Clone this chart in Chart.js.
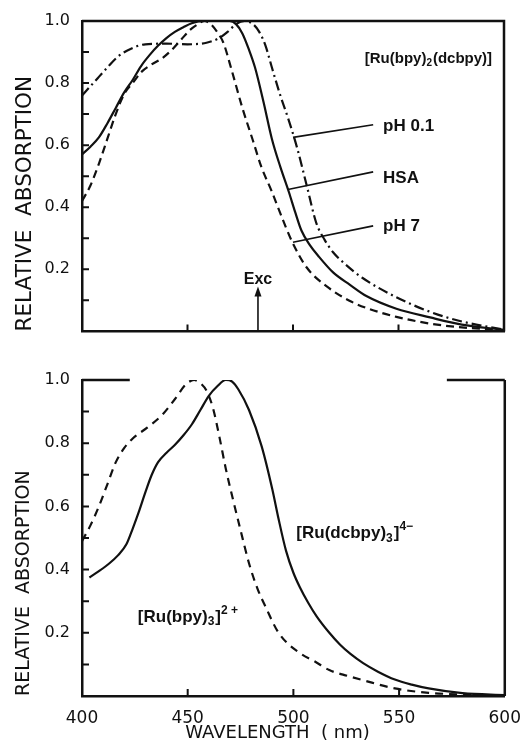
<!DOCTYPE html>
<html>
<head>
<meta charset="utf-8">
<script src="https://cdn.jsdelivr.net/npm/chart.js@4.4.1/dist/chart.umd.min.js"></script>
<style>
  body { margin: 0; background: #fff; }
  #wrap { position: relative; width: 525px; height: 744px; }
  canvas { position: absolute; left: 0; }
  #upper { top: 0; }
  #lower { top: 360px; }
</style>
</head>
<body>
<div id="wrap">
  <canvas id="upper" width="525" height="345"></canvas>
  <canvas id="lower" width="525" height="384"></canvas>
</div>
<script>
// ---- data ----
// upper panel: [Ru(bpy)2(dcbpy)]
const hsaWl  = [400, 404, 408, 412, 416, 420, 424, 428, 432, 436, 440, 444, 448, 452, 458, 470, 473, 476, 479, 482, 486, 490, 494, 498, 501, 504, 508, 512, 519, 527, 535, 549, 565, 580, 600];
const hsaAbs = [0.57, 0.595, 0.625, 0.67, 0.72, 0.77, 0.81, 0.855, 0.89, 0.92, 0.945, 0.965, 0.98, 0.993, 1.0, 1.0, 0.99, 0.96, 0.91, 0.85, 0.74, 0.62, 0.53, 0.45, 0.385, 0.325, 0.278, 0.243, 0.19, 0.15, 0.113, 0.073, 0.045, 0.022, 0.005];

const ph7Wl  = [400, 404, 408, 412, 416, 420, 424, 428, 433, 438, 443, 447, 451, 455, 458, 461, 464, 467, 471, 476, 481, 485, 490, 494, 499.5, 506.6, 516, 527, 535, 549, 565, 580, 600];
const ph7Abs = [0.42, 0.47, 0.54, 0.62, 0.70, 0.765, 0.80, 0.835, 0.86, 0.88, 0.91, 0.94, 0.97, 0.99, 1.0, 0.99, 0.965, 0.93, 0.84, 0.72, 0.615, 0.53, 0.45, 0.38, 0.29, 0.205, 0.145, 0.098, 0.075, 0.047, 0.025, 0.013, 0.004];

const ph01Wl  = [400, 404, 408, 412, 417, 423, 430, 440, 450, 459, 465, 469, 473, 477, 481, 484, 487, 490, 494, 498, 502, 506.5, 511, 515, 519, 525, 533, 549, 565, 580, 600];
const ph01Abs = [0.76, 0.79, 0.82, 0.85, 0.885, 0.91, 0.925, 0.927, 0.925, 0.93, 0.945, 0.965, 0.99, 1.0, 0.99, 0.965, 0.92, 0.85, 0.76, 0.68, 0.59, 0.47, 0.35, 0.295, 0.255, 0.215, 0.172, 0.11, 0.063, 0.032, 0.006];

// lower panel
const dcbpyWl  = [403.5, 408, 413, 417, 421, 424, 427, 430, 433, 436, 440, 444, 448, 452, 456, 460, 464, 468, 471, 474, 479, 485, 490, 493, 496.5, 500, 503, 507, 511, 517, 522, 527, 533, 540, 548, 556, 564, 580, 600];
const dcbpyAbs = [0.375, 0.395, 0.42, 0.445, 0.48, 0.53, 0.585, 0.645, 0.70, 0.74, 0.77, 0.795, 0.825, 0.86, 0.905, 0.95, 0.98, 1.0, 0.995, 0.97, 0.905, 0.79, 0.655, 0.56, 0.46, 0.39, 0.345, 0.295, 0.252, 0.2, 0.163, 0.133, 0.104, 0.077, 0.052, 0.036, 0.024, 0.009, 0.003];

const bpyWl  = [400, 404, 408, 412, 416, 420, 424, 431, 438, 444, 449, 453, 456, 459, 462, 465, 468, 471.5, 475, 479, 483, 487, 493, 503, 510, 517, 526, 533, 548, 564, 580, 600];
const bpyAbs = [0.49, 0.54, 0.60, 0.67, 0.74, 0.785, 0.815, 0.85, 0.89, 0.94, 0.985, 1.0, 0.99, 0.965, 0.91, 0.82, 0.72, 0.62, 0.525, 0.42, 0.34, 0.28, 0.2, 0.136, 0.11, 0.082, 0.063, 0.05, 0.024, 0.01, 0.005, 0.002];

const wlTicks = [400, 450, 500, 550, 600];
const innerXTicks = [450, 500, 550];
const innerYTicks = [0.1, 0.2, 0.3, 0.4, 0.5, 0.6, 0.7, 0.8, 0.9];

const ink = '#111';
const labelFont = '"Liberation Sans", Arial, sans-serif';
const axisFont = '"DejaVu Sans", sans-serif';

function pts(xs, ys) {
  return xs.map((x, i) => ({ x: x, y: ys[i] }));
}

function line(data, dash) {
  return {
    data: data,
    borderColor: ink,
    borderWidth: 2.2,
    borderDash: dash,
    pointRadius: 0,
    fill: false,
    cubicInterpolationMode: 'monotone'
  };
}

// draws text pieces with sub/superscripts, left aligned
function richText(ctx, parts, x, y, size) {
  let cx = x;
  ctx.textAlign = 'left';
  ctx.textBaseline = 'middle';
  parts.forEach(([txt, kind]) => {
    const s = kind ? Math.round(size * 0.68) : size;
    ctx.font = `bold ${s}px ${labelFont}`;
    const dy = kind === 'sub' ? size * 0.3 : kind === 'sup' ? -size * 0.4 : 0;
    ctx.fillText(txt, cx, y + dy);
    cx += ctx.measureText(txt).width + (kind ? 1 : 0);
  });
}

function innerTicks(chart) {
  const { ctx, chartArea: a, scales: { x, y } } = chart;
  ctx.lineWidth = 2;
  ctx.beginPath();
  innerYTicks.forEach(v => {
    const py = y.getPixelForValue(v);
    ctx.moveTo(a.left, py); ctx.lineTo(a.left + 7, py);
  });
  innerXTicks.forEach(v => {
    const px = x.getPixelForValue(v);
    ctx.moveTo(px, a.bottom); ctx.lineTo(px, a.bottom - 7);
  });
  ctx.stroke();
}

// labels with leader lines in the upper panel
const leaderText = ['pH 0.1', 'HSA', 'pH 7'];
const leaderFrom = [[500, 0.625], [497.6, 0.457], [500, 0.287]];
const leaderTo = [[538, 0.666], [538, 0.514], [538, 0.34]];
const leaderTextY = [0.662, 0.492, 0.338];

const upperDecor = {
  id: 'upperDecor',
  afterDraw(chart) {
    const { ctx, chartArea: a, scales: { x, y } } = chart;
    ctx.save();
    ctx.strokeStyle = ink;
    ctx.fillStyle = ink;
    ctx.lineWidth = 2.5;
    ctx.beginPath();
    ctx.moveTo(a.left, a.top); ctx.lineTo(a.right, a.top); ctx.lineTo(a.right, a.bottom);
    ctx.stroke();
    innerTicks(chart);

    ctx.lineWidth = 1.6;
    leaderText.forEach((t, i) => {
      ctx.beginPath();
      ctx.moveTo(x.getPixelForValue(leaderFrom[i][0]), y.getPixelForValue(leaderFrom[i][1]));
      ctx.lineTo(x.getPixelForValue(leaderTo[i][0]), y.getPixelForValue(leaderTo[i][1]));
      ctx.stroke();
      richText(ctx, [[t]], x.getPixelForValue(leaderTo[i][0] + 4.7), y.getPixelForValue(leaderTextY[i]), 17);
    });

    richText(ctx, [['[Ru(bpy)'], ['2', 'sub'], ['(dcbpy)]']], x.getPixelForValue(534), y.getPixelForValue(0.877), 15);

    // excitation arrow
    const ex = x.getPixelForValue(483.4);
    const tip = y.getPixelForValue(0.145);
    ctx.lineWidth = 1.6;
    ctx.beginPath();
    ctx.moveTo(ex, a.bottom); ctx.lineTo(ex, tip + 6);
    ctx.stroke();
    ctx.beginPath();
    ctx.moveTo(ex, tip); ctx.lineTo(ex - 3.5, tip + 10); ctx.lineTo(ex + 3.5, tip + 10);
    ctx.closePath(); ctx.fill();
    ctx.font = `bold 16px ${labelFont}`;
    ctx.textAlign = 'center';
    ctx.textBaseline = 'middle';
    ctx.fillText('Exc', ex, y.getPixelForValue(0.168));
    ctx.restore();
  }
};

const lowerTopEdge = [[400, 422.6], [572.6, 600]];

const lowerDecor = {
  id: 'lowerDecor',
  afterDraw(chart) {
    const { ctx, chartArea: a, scales: { x, y } } = chart;
    ctx.save();
    ctx.strokeStyle = ink;
    ctx.fillStyle = ink;
    ctx.lineWidth = 2.5;
    ctx.beginPath();
    lowerTopEdge.forEach(([s, e]) => {
      ctx.moveTo(x.getPixelForValue(s), a.top); ctx.lineTo(x.getPixelForValue(e), a.top);
    });
    ctx.moveTo(a.right, a.top); ctx.lineTo(a.right, a.bottom);
    ctx.stroke();
    innerTicks(chart);

    richText(ctx, [['[Ru(dcbpy)'], ['3', 'sub'], [']'], ['4\u2212', 'sup']], x.getPixelForValue(501.4), y.getPixelForValue(0.514), 17);
    richText(ctx, [['[Ru(bpy)'], ['3', 'sub'], [']'], ['2 +', 'sup']], x.getPixelForValue(426.4), y.getPixelForValue(0.25), 17);

    // x axis title, sits a little left of the axis centre in the original
    ctx.font = `18px ${axisFont}`;
    ctx.textAlign = 'center';
    ctx.textBaseline = 'middle';
    ctx.fillText('WAVELENGTH  ( nm)', x.getPixelForValue(492.5), chart.height - 11);
    ctx.restore();
  }
};

function yAxis(titleSize) {
  return {
    type: 'linear',
    min: 0,
    max: 1,
    afterFit: s => { s.width = 82; },
    grid: { display: false },
    border: { display: true, width: 2.5, color: ink },
    ticks: {
      stepSize: 0.1,
      padding: 4,
      color: ink,
      font: { family: axisFont, size: 16 },
      callback: v => {
        const k = Math.round(v * 10);
        return (k > 0 && k % 2 === 0) ? (k / 10).toFixed(1) : '';
      }
    },
    title: {
      display: true,
      text: 'RELATIVE  ABSORPTION',
      align: 'start',
      color: ink,
      padding: { top: 13, bottom: 0 },
      font: { family: axisFont, size: titleSize }
    }
  };
}

Chart.defaults.animation = false;

const upperChart = new Chart(document.getElementById('upper'), {
  type: 'line',
  data: {
    datasets: [
      line(pts(ph01Wl, ph01Abs), [10, 4, 2, 4]),
      line(pts(hsaWl, hsaAbs), []),
      line(pts(ph7Wl, ph7Abs), [8, 5])
    ]
  },
  options: {
    responsive: false,
    devicePixelRatio: 1,
    layout: { padding: { left: 0, top: 21, right: 21, bottom: 0 } },
    plugins: { legend: { display: false }, tooltip: { enabled: false } },
    scales: {
      x: {
        type: 'linear',
        min: 400,
        max: 600,
        afterFit: s => { s.height = 7; },
        grid: { display: false },
        border: { display: true, width: 2.5, color: ink },
        ticks: { display: false }
      },
      y: yAxis(21.5)
    }
  },
  plugins: [upperDecor]
});

const lowerChart = new Chart(document.getElementById('lower'), {
  type: 'line',
  data: {
    datasets: [
      line(pts(dcbpyWl, dcbpyAbs), []),
      line(pts(bpyWl, bpyAbs), [8, 6])
    ]
  },
  options: {
    responsive: false,
    devicePixelRatio: 1,
    layout: { padding: { left: 0, top: 20, right: 19, bottom: 0 } },
    plugins: { legend: { display: false }, tooltip: { enabled: false } },
    scales: {
      x: {
        type: 'linear',
        min: 400,
        max: 600,
        afterFit: s => { s.height = 48; },
        afterBuildTicks: s => { s.ticks = wlTicks.map(v => ({ value: v })); },
        grid: { display: false },
        border: { display: true, width: 2.5, color: ink },
        ticks: {
          padding: 4,
          color: ink,
          maxRotation: 0,
          font: { family: axisFont, size: 17 }
        }
      },
      y: yAxis(19)
    }
  },
  plugins: [lowerDecor]
});
</script>
</body>
</html>
